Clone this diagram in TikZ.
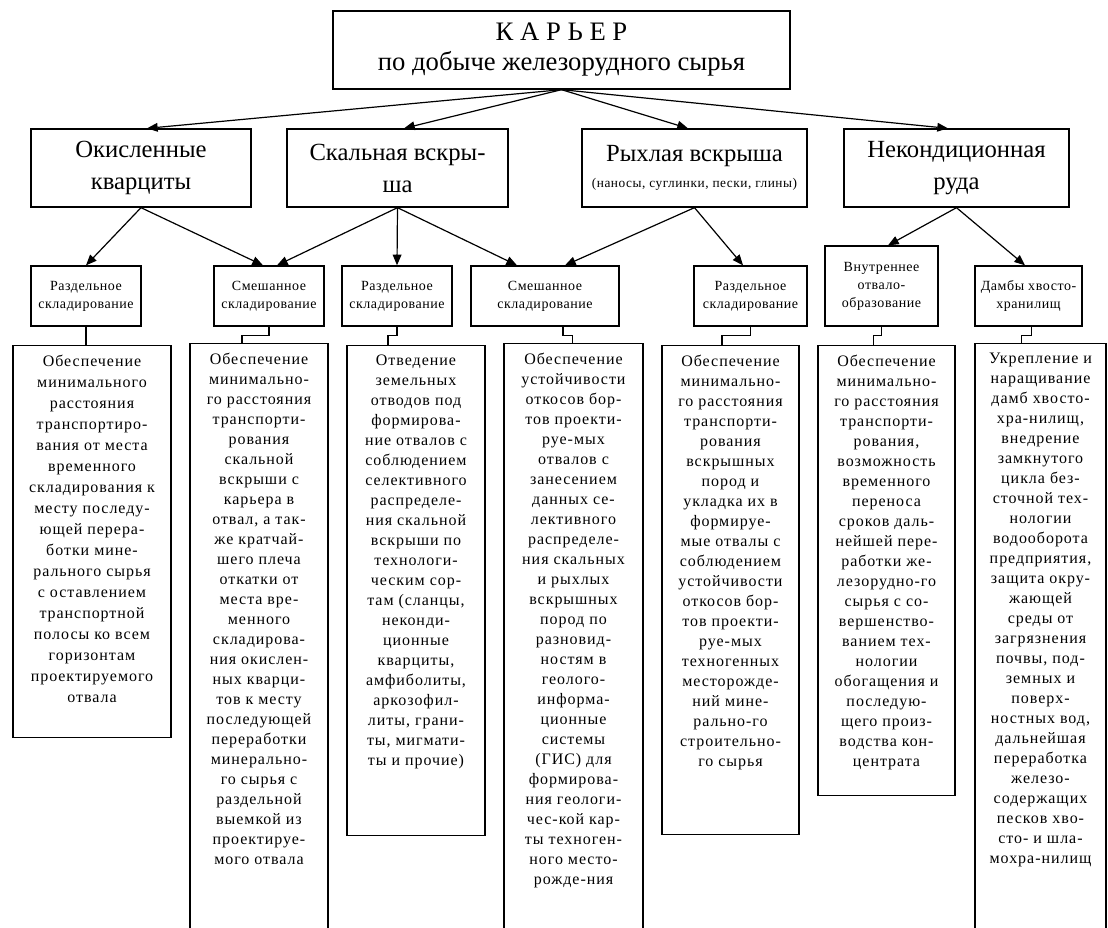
\documentclass[tikz,border=0pt]{standalone}
\usepackage{fontspec}
\setmainfont{Liberation Serif}
\newfontfamily\sperrfont[LetterSpace=6]{Liberation Serif}
\newfontfamily\kleinfont[LetterSpace=4]{Liberation Serif}
\usetikzlibrary{arrows.meta}
\begin{document}
\begin{tikzpicture}[x=0.75pt,y=-0.75pt,
kasten/.style={draw,line width=1pt,inner sep=0pt,align=center,minimum height=58.5pt,font=\fontsize{18.5}{24}\selectfont},
klein/.style={draw,line width=1pt,inner sep=0pt,align=center,minimum height=45pt,font=\kleinfont\fontsize{10.5}{13.5}\selectfont},
spalte/.style={draw,line width=1pt,inner sep=0pt,anchor=north},
spaltentext/.style={anchor=north,inner sep=0pt,yshift=-7.5pt,align=center,font=\sperrfont\fontsize{12}{15}\selectfont},
pfeil/.style={line width=0.9pt,-{Triangle[length=8pt,width=6.5pt]}},
linie/.style={line width=0.9pt}]
\useasboundingbox (0,0) rectangle (1108,928);
\node[kasten,minimum width=342.75pt,font=\fontsize{20}{22.5}\selectfont](KARJER) at (561.5,50){К А Р Ь Е Р\\по добыче железорудного сырья};
\node[kasten,minimum width=165pt](OKISL) at (141,168){Окисленные\\кварциты};
\node[kasten,minimum width=165.75pt](SKALN) at (397.5,168){Скальная вскры-\\ша};
\node[kasten,minimum width=168.75pt](RYHL) at (694.5,168){Рыхлая вскрыша\\[-4pt]{\kleinfont\fontsize{10}{12}\selectfont(наносы, суглинки, пески, глины)}};
\node[kasten,minimum width=168.75pt](NEKOND) at (956.5,168){Некондиционная\\руда};
\node[klein,minimum width=82.5pt](RAZD1) at (86,296){Раздельное\\складирование};
\node[klein,minimum width=82.5pt](SMESH1) at (269,296){Смешанное\\складирование};
\node[klein,minimum width=82.5pt](RAZD2) at (397,296){Раздельное\\складирование};
\node[klein,minimum width=111pt](SMESH2) at (545,296){Смешанное\\складирование};
\node[klein,minimum width=84.75pt](RAZD3) at (750.5,296){Раздельное\\складирование};
\node[klein,minimum width=84.75pt,minimum height=60pt](VNUTR) at (881.5,286){Внутреннее\\отвало-\\образование};
\node[klein,minimum width=80.25pt](DAMBY) at (1028.5,296){Дамбы хвосто-\\хранилищ};
\node[spalte,minimum width=118.5pt,minimum height=294pt](SP1) at (92,345){};
\node[spalte,minimum width=103.5pt,minimum height=465pt](SP2) at (259,343){};
\node[spalte,minimum width=103.5pt,minimum height=367.5pt](SP3) at (416,345){};
\node[spalte,minimum width=104.25pt,minimum height=465pt](SP4) at (573.5,343){};
\node[spalte,minimum width=102.75pt,minimum height=366.75pt](SP5) at (730.5,345){};
\node[spalte,minimum width=102.75pt,minimum height=337.5pt](SP6) at (886.5,345){};
\node[spalte,minimum width=98.25pt,minimum height=465pt](SP7) at (1040.5,343){};
\node[spaltentext,font=\sperrfont\fontsize{12}{15.75}\selectfont](TXT1) at (SP1.north){Обеспечение\\минимального\\расстояния\\транспортиро-\\вания от места\\временного\\складирования к\\месту последу-\\ющей перера-\\ботки мине-\\рального сырья\\с оставлением\\транспортной\\полосы ко всем\\горизонтам\\проектируемого\\отвала};
\node[spaltentext](TXT2) at (SP2.north){Обеспечение\\минимально-\\го расстояния\\транспорти-\\рования\\скальной\\вскрыши с\\карьера в\\отвал, а так-\\же кратчай-\\шего плеча\\откатки от\\места вре-\\менного\\складирова-\\ния окислен-\\ных кварци-\\тов к месту\\последующей\\переработки\\минерально-\\го сырья с\\раздельной\\выемкой из\\проектируе-\\мого отвала};
\node[spaltentext](TXT3) at (SP3.north){Отведение\\земельных\\отводов под\\формирова-\\ние отвалов с\\соблюдением\\селективного\\распределе-\\ния скальной\\вскрыши по\\технологи-\\ческим сор-\\там (сланцы,\\неконди-\\ционные\\кварциты,\\амфиболиты,\\аркозофил-\\литы, грани-\\ты, мигмати-\\ты и прочие)};
\node[spaltentext](TXT4) at (SP4.north){Обеспечение\\устойчивости\\откосов бор-\\тов проекти-\\руе-мых\\отвалов с\\занесением\\данных се-\\лективного\\распределе-\\ния скальных\\и рыхлых\\вскрышных\\пород по\\разновид-\\ностям в\\геолого-\\информа-\\ционные\\системы\\(ГИС) для\\формирова-\\ния геологи-\\чес-кой кар-\\ты техноген-\\ного место-\\рожде-ния};
\node[spaltentext](TXT5) at (SP5.north){Обеспечение\\минимально-\\го расстояния\\транспорти-\\рования\\вскрышных\\пород и\\укладка их в\\формируе-\\мые отвалы с\\соблюдением\\устойчивости\\откосов бор-\\тов проекти-\\руе-мых\\техногенных\\месторожде-\\ний мине-\\рально-го\\строительно-\\го сырья};
\node[spaltentext](TXT6) at (SP6.north){Обеспечение\\минимально-\\го расстояния\\транспорти-\\рования,\\возможность\\временного\\переноса\\сроков даль-\\нейшей пере-\\работки же-\\лезорудно-го\\сырья с со-\\вершенство-\\ванием тех-\\нологии\\обогащения и\\последую-\\щего произ-\\водства кон-\\центрата};
\node[spaltentext](TXT7) at (SP7.north){Укрепление и\\наращивание\\дамб хвосто-\\хра-нилищ,\\внедрение\\замкнутого\\цикла без-\\сточной тех-\\нологии\\водооборота\\предприятия,\\защита окру-\\жающей\\среды от\\загрязнения\\почвы, под-\\земных и\\поверх-\\ностных вод,\\дальнейшая\\переработка\\железо-\\содержащих\\песков хво-\\сто- и шла-\\мохра-нилищ};
\draw[pfeil](KARJER.south)--([xshift=4.5pt]OKISL.north);
\draw[pfeil](KARJER.south)--([xshift=4.9pt]SKALN.north);
\draw[pfeil](KARJER.south)--([xshift=-4.9pt]RYHL.north);
\draw[pfeil](KARJER.south)--([xshift=-6.4pt]NEKOND.north);
\draw[pfeil](OKISL.south)--(RAZD1.north);
\draw[pfeil](OKISL.south)--([xshift=-4.5pt]SMESH1.north);
\draw[pfeil](SKALN.south)--([xshift=6pt]SMESH1.north);
\draw[pfeil](SKALN.south)--(RAZD2.north);
\draw[pfeil](SKALN.south)--([xshift=-21pt]SMESH2.north);
\draw[pfeil](RYHL.south)--([xshift=15pt]SMESH2.north);
\draw[pfeil](RYHL.south)--([xshift=-5.6pt]RAZD3.north);
\draw[pfeil](NEKOND.south)--([xshift=4.9pt]VNUTR.north);
\draw[pfeil](NEKOND.south)--([xshift=-2.6pt]DAMBY.north);
\draw[linie](RAZD1.south)--(RAZD1.south |- SP1.north);
\draw[linie](SMESH1.south)--++(0,9)-|([xshift=-12.75pt]SP2.north);
\draw[linie](RAZD2.south)--++(0,9)-|([xshift=-21pt]SP3.north);
\draw[linie]([xshift=13.5pt]SMESH2.south)--++(0,9)-|([xshift=-1pt]SP4.north);
\draw[linie](RAZD3.south)--++(0,9)-|([xshift=-6.4pt]SP5.north);
\draw[linie](VNUTR.south)--++(0,9)-|([xshift=-10pt]SP6.north);
\draw[linie]([xshift=2pt]DAMBY.south)--++(0,9)-|([xshift=-14pt]SP7.north);
\end{tikzpicture}
\end{document}
